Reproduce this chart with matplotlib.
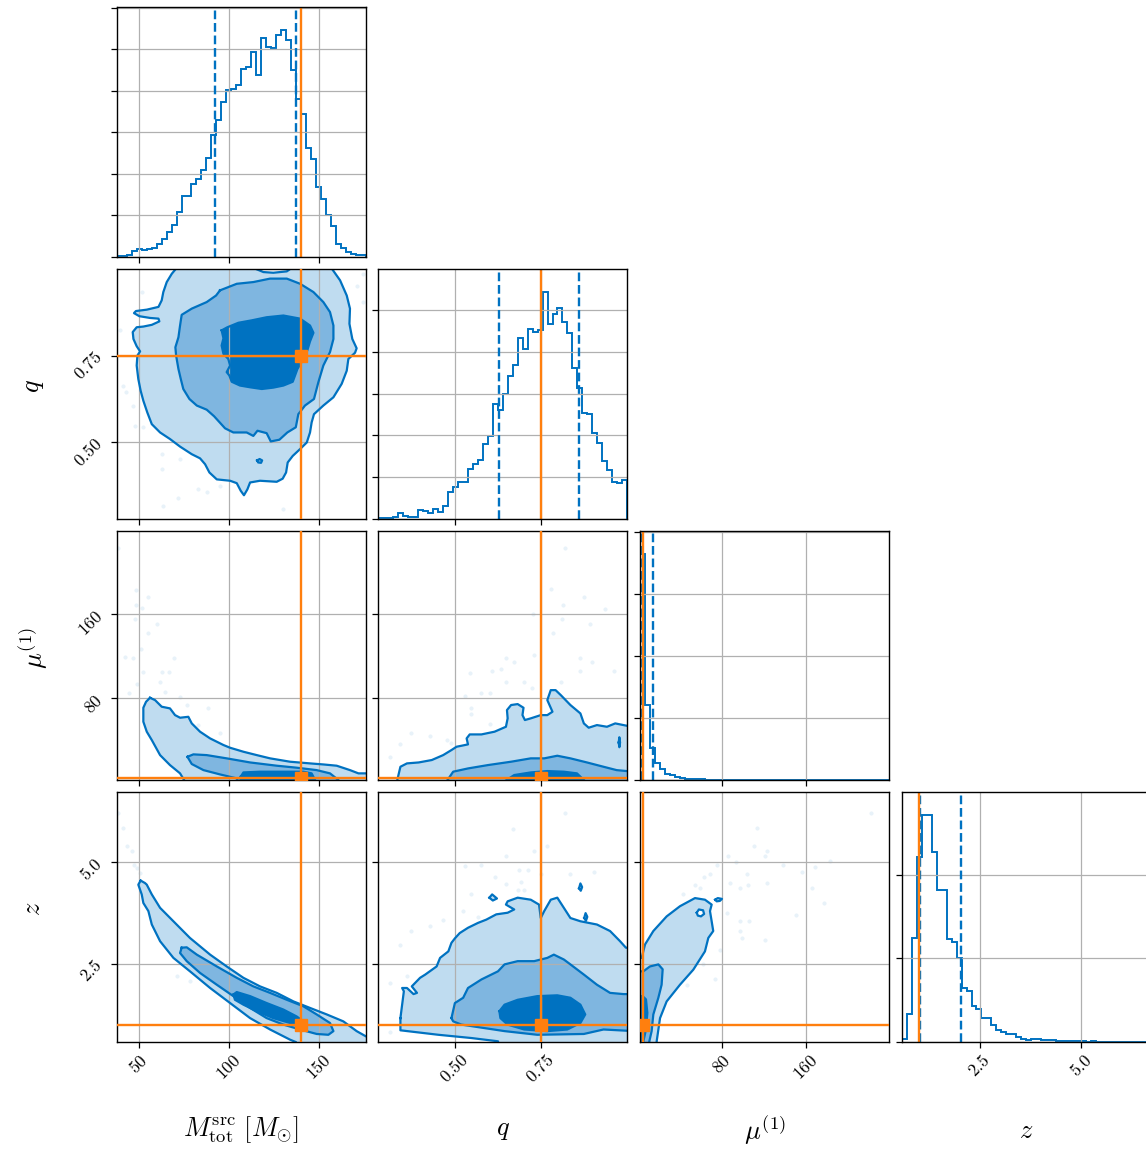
import numpy as np
import matplotlib
matplotlib.use('Agg')
import matplotlib.pyplot as plt

plt.rcParams['mathtext.fontset'] = 'cm'
plt.rcParams['font.family'] = ['DejaVu Serif']

# ---------------- data ----------------
labels = [r'$M_{\mathrm{tot}}^{\mathrm{src}}\ [M_{\odot}]$', r'$q$', r'$\mu^{(1)}$', r'$z$']
ranges = [[37.4, 175.9], [0.277, 1.0], [1.9, 239.5], [0.58, 6.71]]
ticks = [[50, 100, 150], [0.50, 0.75], [80, 160], [2.5, 5.0]]
tick_labels = [['50', '100', '150'], ['0.50', '0.75'], ['80', '160'], ['2.5', '5.0']]
truths = [140.0, 0.75, 4.5, 1.0]
quant_lo = [92.1, 0.628, 2.8, 1.04]
quant_hi = [137.1, 0.861, 14.6, 2.05]

hist_M = [0.02, 0.02, 0.03, 0.14, 0.18, 0.16, 0.19, 0.22, 0.30, 0.42,
          0.60, 0.76, 1.08, 1.46, 1.47, 1.74, 1.87, 2.09, 2.38, 2.93,
          3.28, 3.72, 4.02, 4.03, 4.13, 4.52, 4.58, 4.94, 4.38, 5.26,
          5.06, 5.02, 5.34, 5.46, 5.22, 4.50, 3.79, 3.44, 2.61, 2.35,
          1.69, 1.38, 1.00, 0.74, 0.31, 0.22, 0.12, 0.06, 0.03, 0.04]
hist_q = [0.02, 0.02, 0.02, 0.04, 0.14, 0.06, 0.04, 0.04, 0.22, 0.18,
          0.14, 0.24, 0.16, 0.30, 0.64, 0.76, 0.88, 0.88, 1.20, 1.32,
          1.42, 1.80, 1.98, 2.76, 2.62, 3.00, 3.42, 3.68, 4.34, 4.06,
          4.56, 4.48, 4.52, 5.44, 4.68, 4.90, 5.06, 4.72, 4.46, 3.62,
          3.14, 2.54, 2.52, 2.06, 1.82, 1.38, 1.16, 0.88, 0.86, 0.94]
hist_mu = [3.65, 1.21, 0.52, 0.28, 0.18, 0.11, 0.08, 0.05, 0.04, 0.027,
           0.016, 0.016, 0.016, 0.01, 0.01, 0.01, 0.01, 0.008, 0.008, 0.006,
           0.006, 0.005, 0.005, 0.004, 0.004, 0.003, 0.003, 0.003, 0.002, 0.002,
           0.002, 0.002, 0.001, 0.001, 0.001, 0.001, 0.001, 0.001, 0.0, 0.0,
           0.0, 0.0, 0.0, 0.0, 0.0, 0.0, 0.0, 0.0, 0.0, 0.001]
hist_z = [0.03, 0.33, 1.25, 2.22, 2.72, 2.72, 2.28, 1.82, 1.82, 1.23,
          1.20, 1.01, 0.65, 0.61, 0.43, 0.39, 0.28, 0.28, 0.20, 0.14,
          0.12, 0.09, 0.09, 0.06, 0.03, 0.02, 0.03, 0.03, 0.016, 0.016,
          0.016, 0.012, 0.012, 0.012, 0.004, 0.004, 0.004, 0.0, 0.004, 0.0,
          0.0, 0.0, 0.0, 0.0, 0.0, 0.0, 0.0, 0.0, 0.0, 0.0]
hists = [hist_M, hist_q, hist_mu, hist_z]

# credible-region outlines (x, y in data units) for each lower panel
Mq_outer = [(70.7, 1.05), (70.7, 1.004), (68.0, 0.987), (65.2, 0.963), (63.3, 0.934), (62.4, 0.910),
            (60.6, 0.891), (54.1, 0.883), (48.1, 0.879), (47.0, 0.873), (50.0, 0.864), (55.9, 0.859),
            (60.6, 0.857), (61.1, 0.849), (56.9, 0.839), (52.2, 0.834), (48.5, 0.832), (46.3, 0.818),
            (46.7, 0.798), (48.5, 0.777), (50.4, 0.762), (48.9, 0.750), (48.5, 0.721), (49.4, 0.682),
            (50.7, 0.648), (52.2, 0.619), (54.4, 0.585), (56.9, 0.551), (61.5, 0.527), (67.0, 0.508),
            (72.6, 0.486), (79.1, 0.464), (83.7, 0.452), (86.5, 0.435), (88.9, 0.411), (93.0, 0.391),
            (100.4, 0.387), (104.1, 0.380), (106.3, 0.358), (108.1, 0.345), (110.0, 0.362), (111.5, 0.382),
            (117.0, 0.387), (126.3, 0.384), (129.6, 0.393), (131.5, 0.411), (132.4, 0.440), (135.2, 0.459),
            (139.3, 0.479), (143.0, 0.498), (144.8, 0.527), (145.7, 0.556), (147.0, 0.580), (152.2, 0.605),
            (157.8, 0.629), (162.4, 0.668), (165.2, 0.706), (166.1, 0.740), (169.8, 0.758), (170.7, 0.771),
            (168.3, 0.798), (166.7, 0.842), (167.0, 0.886), (165.2, 0.924), (161.5, 0.968), (156.9, 1.002),
            (156.9, 1.05), (134.6, 1.05), (134.6, 1.004), (131.9, 0.994), (124.4, 0.990), (118.9, 0.992),
            (115.2, 1.0), (113.3, 1.004), (113.3, 1.05)]
Mq_mid = [(94.8, 0.939), (104.1, 0.958), (113.3, 0.963), (122.6, 0.973), (131.9, 0.973), (139.3, 0.958),
          (146.7, 0.934), (152.2, 0.905), (155.9, 0.876), (157.8, 0.837), (157.8, 0.798), (155.9, 0.760),
          (152.2, 0.721), (149.4, 0.672), (147.0, 0.624), (142.0, 0.605), (138.3, 0.580), (136.9, 0.542),
          (132.2, 0.527), (127.8, 0.506), (123.0, 0.501), (120.7, 0.525), (115.6, 0.532), (113.3, 0.517),
          (109.6, 0.527), (102.2, 0.527), (97.6, 0.539), (91.5, 0.574), (87.4, 0.593), (81.9, 0.605),
          (77.8, 0.624), (74.4, 0.653), (73.0, 0.682), (71.7, 0.711), (70.4, 0.750), (70.0, 0.774),
          (71.7, 0.803), (72.6, 0.837), (73.5, 0.868), (79.1, 0.886), (87.4, 0.905), (92.6, 0.924)]
Mq_inner = [(95.7, 0.823), (98.9, 0.832), (105.0, 0.845), (112.4, 0.852), (120.7, 0.861), (130.0, 0.866),
            (139.3, 0.857), (144.8, 0.837), (146.7, 0.816), (144.8, 0.791), (143.3, 0.765), (141.1, 0.740),
            (137.8, 0.711), (135.2, 0.674), (130.0, 0.663), (124.4, 0.657), (118.0, 0.653), (111.5, 0.658),
            (105.9, 0.663), (101.3, 0.674), (100.0, 0.692), (98.5, 0.702), (100.4, 0.721), (99.4, 0.740),
            (96.7, 0.755), (95.7, 0.779), (96.7, 0.800)]
Mq_island = [(115.4, 0.446), (116.8, 0.450), (118.2, 0.446), (117.6, 0.439), (116.0, 0.440)]

Mmu_outer = [(55.9, 80.6), (53.7, 76.8), (52.2, 71.1), (52.2, 57.8), (54.1, 48.3), (56.9, 40.3),
             (61.5, 26.0), (67.0, 16.5), (72.6, 8.6), (75.4, 0.6), (75.4, -10), (182, -10),
             (182, 8.6), (171.7, 8.6), (167.0, 11.7), (159.6, 15.9), (152.2, 17.1), (144.8, 18.1),
             (133.7, 19.7), (122.6, 22.9), (115.2, 26.0), (107.8, 29.2), (100.4, 33.0), (96.7, 35.6),
             (89.3, 41.9), (83.7, 48.3), (79.1, 56.2), (77.2, 62.5), (72.6, 61.6), (69.8, 64.1),
             (67.0, 70.5), (62.4, 72.1), (58.7, 78.4)]
Mmu_mid = [(76.7, 24.4), (80.0, 26.7), (87.4, 26.0), (98.5, 22.9), (111.5, 19.0), (126.3, 15.9),
           (137.4, 14.0), (148.5, 11.7), (155.9, 8.6), (160.6, 2.2), (161.5, -10), (107.8, -10),
           (104.1, 3.8), (94.8, 7.6), (85.6, 11.7), (79.1, 17.5)]
Mmu_inner = [(106.3, 5.4), (107.8, 9.5), (117.0, 10.2), (130.0, 10.2), (141.1, 10.2), (145.7, 8.6),
             (147.6, 2.2), (147.6, -10), (105.9, -10)]

qmu_outer = [(0.332, -10), (0.332, 1.0), (0.342, 14.9), (0.361, 18.1), (0.395, 19.0), (0.433, 21.3),
             (0.466, 26.0), (0.490, 30.8), (0.505, 34.0), (0.519, 34.9), (0.538, 36.2), (0.534, 41.9),
             (0.543, 45.7), (0.577, 45.7), (0.615, 48.3), (0.648, 53.0), (0.653, 61.0), (0.651, 68.9),
             (0.663, 73.7), (0.682, 74.6), (0.699, 71.1), (0.696, 64.1), (0.703, 59.4), (0.720, 61.0),
             (0.749, 64.1), (0.768, 64.1), (0.783, 67.3), (0.768, 78.4), (0.778, 87.9), (0.792, 87.9),
             (0.807, 83.2), (0.835, 73.7), (0.864, 65.7), (0.874, 56.2), (0.888, 52.1), (0.912, 54.6),
             (0.941, 53.0), (0.965, 56.2), (0.998, 54.0), (1.03, 54.0), (1.03, -10)]
qmu_mid = [(0.476, -10), (0.476, 1.0), (0.495, 10.2), (0.538, 13.3), (0.596, 16.5), (0.663, 19.7),
           (0.720, 22.9), (0.759, 22.9), (0.797, 25.4), (0.835, 22.9), (0.883, 19.0), (0.931, 14.9),
           (0.969, 11.7), (0.998, 10.8), (1.03, 10.8), (1.03, -10)]
qmu_inner = [(0.644, -10), (0.644, 1.0), (0.672, 7.0), (0.720, 9.5), (0.768, 10.8), (0.816, 10.2),
             (0.854, 8.6), (0.878, 1.0), (0.878, -10)]
qmu_island = [(0.975, 38.0), (0.977, 43.0), (0.979, 38.0), (0.977, 33.5)]

Mz_outer = [(50.7, 4.54), (53.1, 4.48), (54.1, 4.44), (56.9, 4.20), (61.5, 3.87), (68.9, 3.54),
            (78.1, 3.13), (89.3, 2.72), (98.5, 2.43), (107.8, 2.15), (117.0, 1.94), (126.3, 1.78),
            (135.6, 1.57), (144.8, 1.41), (154.1, 1.25), (163.3, 1.08), (170.7, 0.84), (175.9, 0.71),
            (182, 0.71), (182, 0.3), (137.0, 0.3), (137.0, 0.57), (133.7, 0.63), (122.6, 0.88),
            (111.5, 1.16), (100.4, 1.53), (89.3, 1.90), (78.1, 2.31), (68.9, 2.64), (61.5, 3.05),
            (56.9, 3.46), (55.0, 3.79), (52.2, 3.99), (51.3, 4.20), (49.4, 4.44)]
Mz_mid = [(73.5, 2.89), (76.3, 2.90), (81.9, 2.72), (93.0, 2.43), (104.1, 2.15), (113.3, 1.94),
          (122.6, 1.78), (131.9, 1.61), (141.1, 1.45), (148.5, 1.25), (155.9, 1.04), (157.8, 0.84),
          (155.0, 0.75), (148.5, 0.77), (139.3, 0.88), (130.0, 1.00), (120.7, 1.16), (111.5, 1.41),
          (102.2, 1.70), (93.0, 1.98), (83.7, 2.27), (76.3, 2.56), (72.6, 2.76)]
Mz_inner = [(102.2, 1.74), (104.1, 1.80), (111.5, 1.70), (120.7, 1.53), (130.0, 1.37), (137.4, 1.20),
            (141.1, 1.08), (139.3, 1.00), (133.7, 1.04), (124.4, 1.16), (115.2, 1.33), (107.8, 1.49),
            (103.1, 1.61)]

qz_outer = [(0.342, 1.16), (0.347, 1.49), (0.352, 1.82), (0.347, 1.90), (0.361, 1.90), (0.380, 1.75),
            (0.390, 1.78), (0.375, 1.94), (0.399, 2.15), (0.414, 2.23), (0.447, 2.43), (0.457, 2.64),
            (0.481, 2.80), (0.490, 3.01), (0.500, 3.12), (0.514, 3.25), (0.538, 3.38), (0.567, 3.50),
            (0.591, 3.58), (0.620, 3.71), (0.653, 3.75), (0.672, 3.83), (0.648, 3.95), (0.653, 4.03),
            (0.682, 4.12), (0.720, 4.07), (0.744, 3.95), (0.749, 3.62), (0.759, 3.79), (0.778, 4.07),
            (0.797, 4.12), (0.816, 3.87), (0.835, 3.62), (0.864, 3.54), (0.912, 3.46), (0.950, 3.30),
            (0.979, 3.05), (0.996, 2.89), (1.03, 2.89), (1.03, 0.3), (0.627, 0.3), (0.625, 0.59),
            (0.548, 0.67), (0.452, 0.75), (0.342, 0.86)]
qz_mid = [(0.490, 1.16), (0.500, 1.53), (0.524, 1.66), (0.538, 1.90), (0.577, 2.11), (0.625, 2.31),
          (0.644, 2.48), (0.682, 2.56), (0.730, 2.56), (0.768, 2.64), (0.787, 2.72), (0.816, 2.60),
          (0.835, 2.48), (0.874, 2.23), (0.912, 1.98), (0.950, 1.78), (0.989, 1.75), (1.03, 1.75),
          (1.03, 0.85), (0.998, 0.85), (0.931, 0.88), (0.874, 0.77), (0.739, 0.75), (0.644, 0.84),
          (0.519, 1.00), (0.495, 1.08)]
qz_inner = [(0.629, 1.33), (0.644, 1.49), (0.682, 1.61), (0.739, 1.70), (0.797, 1.72), (0.835, 1.66),
            (0.864, 1.49), (0.878, 1.25), (0.864, 1.04), (0.826, 0.88), (0.768, 0.84), (0.701, 0.88),
            (0.653, 1.00), (0.632, 1.16)]
qz_islands = [[(0.600, 4.12), (0.608, 4.20), (0.622, 4.10), (0.610, 4.05)],
              [(0.860, 4.35), (0.864, 4.47), (0.869, 4.38), (0.865, 4.29)],
              [(0.875, 3.62), (0.879, 3.74), (0.884, 3.65), (0.880, 3.55)]]

muz_outer = [(-10, 2.64), (3.5, 2.64), (6.7, 2.97), (14.6, 3.30), (27.3, 3.66), (40.0, 3.91),
             (54.3, 4.11), (63.8, 4.07), (70.2, 3.95), (68.6, 3.79), (70.2, 3.54), (71.7, 3.30),
             (67.0, 3.13), (63.8, 2.80), (52.7, 2.35), (40.0, 1.98), (27.3, 1.57), (21.0, 1.16),
             (17.8, 0.59), (17.8, 0.3), (-10, 0.3)]
muz_mid = [(-10, 2.31), (5.1, 2.31), (11.4, 2.43), (19.4, 2.48), (23.5, 2.36), (22.5, 1.98),
           (19.4, 1.66), (14.6, 1.25), (13.0, 0.84), (10.8, 0.59), (10.8, 0.3), (-10, 0.3)]
muz_inner = [(-10, 1.70), (4.4, 1.70), (7.6, 1.62), (8.9, 1.29), (7.6, 0.88), (5.1, 0.59),
             (5.1, 0.3), (-10, 0.3)]
muz_hole = [(56.0, 3.75), (58.0, 3.83), (62.0, 3.81), (63.0, 3.72), (60.0, 3.66), (57.0, 3.68)]
muz_island = [(73.5, 4.07), (76.0, 4.11), (80.0, 4.09), (78.0, 4.04), (75.0, 4.03)]

# faint individual samples outside the contours
Mq_pts = [(39.3, 0.823), (41.1, 0.663), (42.6, 0.643), (46.7, 0.605), (47.6, 0.547), (52.2, 0.542),
          (62.4, 0.464), (62.4, 0.421), (72.6, 0.450), (82.8, 0.362), (94.8, 0.372), (63.3, 0.314),
          (130.0, 0.304), (71.7, 0.338), (87.4, 0.353), (174.4, 0.987), (170.7, 0.953), (174.4, 0.905),
          (51.3, 0.934)]
Mmu_pts = [(38.3, 223.5), (48.1, 183.2), (48.1, 168.9), (51.3, 165.7), (54.6, 176.8), (47.6, 155.2),
           (59.6, 150.5), (54.6, 142.5), (50.9, 126.7), (42.0, 119.7), (46.3, 118.7), (69.4, 118.7),
           (52.2, 105.4), (62.4, 105.4), (66.7, 105.4), (48.5, 93.3), (44.3, 84.8), (61.5, 95.9),
           (64.3, 85.7), (72.6, 81.6), (76.3, 73.7), (88.3, 70.5), (82.8, 54.6), (94.8, 46.7)]
qmu_pts = [(0.819, 223.5), (0.779, 183.8), (0.874, 176.8), (0.814, 168.9), (0.936, 165.1), (0.785, 141.9),
           (0.891, 150.5), (0.726, 160.0), (0.811, 155.2), (0.862, 118.7), (0.730, 121.3), (0.648, 118.7),
           (0.672, 114.3), (0.608, 106.0), (0.634, 107.6), (0.545, 104.4), (0.648, 95.9), (0.701, 95.9),
           (0.725, 89.5), (0.807, 95.9), (0.864, 106.0), (0.898, 114.9), (0.960, 106.0), (0.529, 82.5),
           (0.577, 84.8), (0.601, 84.8), (0.548, 71.1), (0.546, 64.8), (0.601, 55.2), (0.476, 40.3),
           (0.489, 37.1), (0.428, 44.4), (0.374, 46.7), (0.342, 36.2), (0.313, 24.4)]
Mz_pts = [(38.3, 6.20), (40.7, 5.84), (43.0, 5.39), (45.7, 5.26), (47.0, 4.93), (48.5, 4.85),
          (50.4, 4.73), (70.7, 2.19), (78.1, 2.07)]
qz_pts = [(0.819, 6.20), (0.668, 5.82), (0.768, 5.39), (0.730, 5.26), (0.648, 5.14), (0.529, 4.89),
          (0.577, 4.92), (0.687, 4.81), (0.711, 4.79), (0.749, 4.69), (0.615, 4.62), (0.648, 4.46),
          (0.692, 4.51), (0.835, 4.70), (0.902, 4.75), (0.682, 4.32), (0.701, 4.30), (0.548, 4.21),
          (0.524, 3.80), (0.567, 3.64), (0.466, 3.56), (0.428, 3.42), (0.374, 3.31), (0.342, 2.95),
          (0.361, 2.19), (0.313, 2.02), (0.313, 0.82)]
muz_pts = [(222.5, 6.20), (113.0, 5.84), (110.5, 5.39), (121.0, 5.14), (122.5, 5.26), (86.0, 5.14),
           (74.9, 4.93), (68.6, 4.69), (62.9, 4.62), (93.3, 5.00), (103.5, 4.70), (87.6, 4.48),
           (97.1, 4.36), (105.1, 4.44), (122.5, 4.48), (138.4, 4.92), (155.9, 4.75), (168.6, 4.88),
           (182.9, 5.02), (165.4, 4.36), (150.5, 3.69), (177.1, 3.99), (84.4, 3.75), (97.1, 3.54),
           (105.4, 3.54), (98.7, 3.13), (121.0, 3.09), (78.1, 2.84), (62.2, 2.48), (73.3, 2.11),
           (46.3, 1.98), (43.2, 4.20), (54.3, 4.44), (59.0, 4.36), (97.1, 3.30)]

panels = {
    (1, 0): dict(levels=[Mq_outer, Mq_mid, Mq_inner], islands=[(Mq_island, 1)], holes=[], pts=Mq_pts),
    (2, 0): dict(levels=[Mmu_outer, Mmu_mid, Mmu_inner], islands=[], holes=[], pts=Mmu_pts),
    (2, 1): dict(levels=[qmu_outer, qmu_mid, qmu_inner], islands=[(qmu_island, 1)], holes=[], pts=qmu_pts),
    (3, 0): dict(levels=[Mz_outer, Mz_mid, Mz_inner], islands=[], holes=[], pts=Mz_pts),
    (3, 1): dict(levels=[qz_outer, qz_mid, qz_inner], islands=[(p, 0) for p in qz_islands], holes=[], pts=qz_pts),
    (3, 2): dict(levels=[muz_outer, muz_mid, muz_inner], islands=[(muz_island, 0)], holes=[muz_hole], pts=muz_pts),
}

# ---------------- style ----------------
BLUE = '#0072c1'
FILLS = ['#bfdcf0', '#7fb6e0', '#0072c1']
ORANGE = '#ff7f0e'
GRID = '#b0b0b0'

W, H = 1146, 1150
fig = plt.figure(figsize=(W / 100, H / 100), dpi=100)
lefts = [116.7, 378.0, 640.0, 901.7]
tops = [7.3, 269.3, 531.0, 792.3]
aw, ah = 249.3, 249.4


def closed(pts):
    xs = [p[0] for p in pts] + [pts[0][0]]
    ys = [p[1] for p in pts] + [pts[0][1]]
    return xs, ys


for i in range(4):
    for j in range(i + 1):
        ax = fig.add_axes([lefts[j] / W, 1 - (tops[i] + ah) / H, aw / W, ah / H])
        for s in ax.spines.values():
            s.set_linewidth(1.0)
        ax.grid(True, color=GRID, lw=0.9)
        ax.set_xlim(ranges[j])
        ax.set_xticks(ticks[j])
        ax.tick_params(length=4, width=0.9, labelsize=12.5)
        if i == j:
            counts = np.array(hists[i])
            edges = np.linspace(ranges[i][0], ranges[i][1], len(counts) + 1)
            ax.stairs(counts, edges, color=BLUE, lw=1.4)
            ymax = 1.1 * counts.max()
            ax.set_ylim(0, ymax)
            ax.set_yticks(np.arange(0, int(ymax) + 1))
            ax.set_yticklabels([])
            ax.axvline(quant_lo[i], color=BLUE, ls='--', lw=1.7)
            ax.axvline(quant_hi[i], color=BLUE, ls='--', lw=1.7)
            ax.axvline(truths[i], color=ORANGE, lw=1.7)
        else:
            ax.set_ylim(ranges[i])
            ax.set_yticks(ticks[i])
            p = panels[(i, j)]
            px = [a for a, b in p['pts']]
            py = [b for a, b in p['pts']]
            ax.plot(px, py, 'o', color=BLUE, ms=3.0, alpha=0.09, mew=0, zorder=0.5)
            for k, poly in enumerate(p['levels']):
                xs, ys = closed(poly)
                ax.fill(xs, ys, color=FILLS[k], lw=0, zorder=1)
            for poly, k in p['islands']:
                xs, ys = closed(poly)
                ax.fill(xs, ys, color=FILLS[k], lw=0, zorder=1)
            for poly in p['holes']:
                xs, ys = closed(poly)
                ax.fill(xs, ys, color='white', lw=0, zorder=1)
            for poly in p['levels'] + [q for q, _ in p['islands']] + p['holes']:
                xs, ys = closed(poly)
                ax.plot(xs, ys, color=BLUE, lw=1.6, zorder=2, solid_joinstyle='round')
            ax.axvline(truths[j], color=ORANGE, lw=1.7, zorder=3)
            ax.axhline(truths[i], color=ORANGE, lw=1.7, zorder=3)
            ax.plot([truths[j]], [truths[i]], 's', color=ORANGE, ms=8, zorder=4)
            ax.set_xlim(ranges[j])
            ax.set_ylim(ranges[i])
            if j == 0:
                ax.set_yticklabels(['$%s$' % t for t in tick_labels[i]], rotation=45)
            else:
                ax.set_yticklabels([])
        if i == 3:
            ax.set_xticklabels(['$%s$' % t for t in tick_labels[j]], rotation=45)
        else:
            ax.set_xticklabels([])

# axis labels
for j in range(4):
    fig.text((lefts[j] + aw / 2) / W, 1 - 1130 / H, labels[j], ha='center', va='center', fontsize=19)
for i in range(1, 4):
    fig.text(33 / W, 1 - (tops[i] + ah / 2 - 8) / H, labels[i], ha='center', va='center',
             rotation=90, fontsize=19)

fig.savefig('out.png', dpi=100)
